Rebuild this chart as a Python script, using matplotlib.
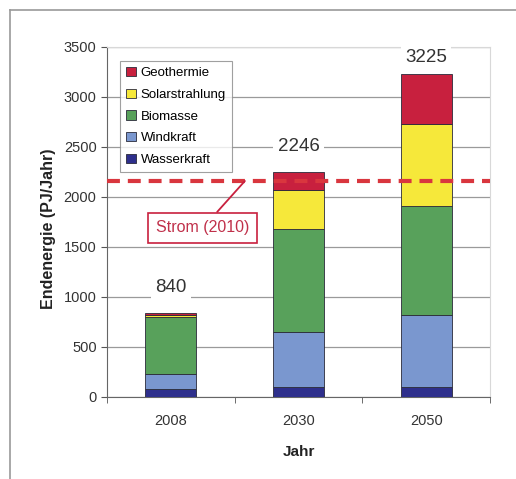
import matplotlib
matplotlib.use("Agg")
import matplotlib.pyplot as plt
from matplotlib.lines import Line2D
import numpy as np

plt.rcParams["font.family"] = ["Liberation Sans", "DejaVu Sans"]

years = ["2008", "2030", "2050"]
sources = ["Wasserkraft", "Windkraft", "Biomasse", "Solarstrahlung", "Geothermie"]
wasserkraft = [80, 95, 95]
windkraft = [150, 555, 725]
biomasse = [565, 1030, 1090]
solar = [25, 390, 820]
geothermie = [20, 176, 495]
totals = [840, 2246, 3225]
strom_2010 = 2160

colors = ["#2E2F8C", "#7A97CF", "#58A15B", "#F6E83A", "#C8203E"]

fig = plt.figure(figsize=(5.16, 4.79), dpi=100)
ax = fig.add_axes([0.2074, 0.1712, 0.7422, 0.7307])

x = np.arange(len(years))
bottom = np.zeros(len(years))
series = [wasserkraft, windkraft, biomasse, solar, geothermie]
handles = []
for name, vals, c in zip(sources, series, colors):
    b = ax.bar(x, vals, width=0.4, bottom=bottom, color=c, edgecolor="#2a2a3a",
               linewidth=0.6, label=name, zorder=3)
    handles.append(b)
    bottom += np.array(vals)

# total labels above bars
label_y = [1090, 2500, 3390]
for xi, tot, ly in zip(x, totals, label_y):
    ax.text(xi, ly, str(tot), ha="center", va="center", fontsize=13.5, color="#333333",
            bbox=dict(facecolor="white", edgecolor="none", pad=3), zorder=4)

# Strom 2010 reference line
ax.axhline(strom_2010, color="#D9363E", lw=3, dashes=(3.1, 1.9), zorder=5)
ax.annotate("Strom (2010)", xy=(0.58, strom_2010), xytext=(0.25, 1690),
            ha="center", va="center", fontsize=11.5, color="#C0304A",
            bbox=dict(boxstyle="square,pad=0.5", facecolor="white", edgecolor="#C8203E", lw=1.2),
            arrowprops=dict(arrowstyle="-", color="#C8203E", lw=1.3, shrinkA=0, shrinkB=0),
            zorder=6)

ax.set_xlim(-0.5, 2.5)
ax.set_ylim(0, 3500)
ax.set_yticks(np.arange(0, 3501, 500))
ax.set_xticks(x)
ax.set_xticklabels(years)
ax.set_xticks([-0.5, 0.5, 1.5, 2.5], minor=True)
ax.tick_params(axis="x", which="major", length=0, pad=12, labelsize=10.5, labelcolor="#333333")
ax.tick_params(axis="x", which="minor", length=4, color="#555555", direction="out")
ax.tick_params(axis="y", length=4, color="#555555", labelsize=10.5, labelcolor="#333333")
ax.yaxis.grid(True, color="#9a9a9a", lw=0.9, zorder=0)
ax.set_axisbelow(True)

for side in ["top", "right"]:
    ax.spines[side].set_color("#d8d8d8")
for side in ["left", "bottom"]:
    ax.spines[side].set_color("#666666")

ax.set_ylabel("Endenergie (PJ/Jahr)", fontsize=11.5, fontweight="bold", color="#222222")
ax.yaxis.set_label_coords(-0.152, 0.48)
ax.set_xlabel("Jahr", fontsize=11, fontweight="bold", color="#222222")
ax.xaxis.set_label_coords(0.5, -0.157)
ax.xaxis.label.set_va("center")
ax.yaxis.label.set_va("center")

leg = ax.legend(handles[::-1], sources[::-1], loc="upper left", bbox_to_anchor=(0.035, 0.96),
                fontsize=9.5, frameon=True, fancybox=False, edgecolor="#888888",
                handlelength=0.7, handleheight=0.7, handletextpad=0.4, labelspacing=0.72,
                borderpad=0.45, borderaxespad=0)
leg.get_frame().set_linewidth(0.8)
leg.set_zorder(7)

# outer frame (top and left only)
fig.add_artist(Line2D([10 / 516, 1.0], [1 - 10 / 479, 1 - 10 / 479], color="#9a9a9a", lw=1.2))
fig.add_artist(Line2D([10 / 516, 10 / 516], [0, 1 - 10 / 479], color="#9a9a9a", lw=1.2))

fig.savefig("out.png", dpi=100)
